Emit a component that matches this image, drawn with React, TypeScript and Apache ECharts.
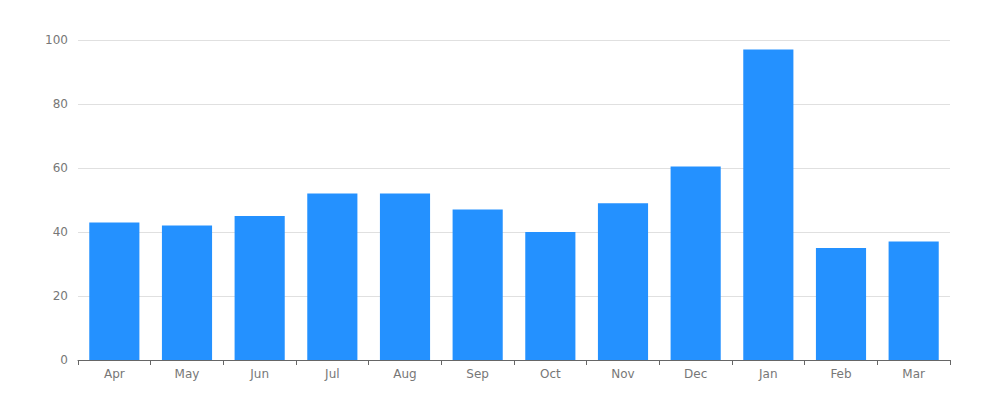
import React, { useEffect, useRef } from "react";
import * as echarts from "echarts";

const categories = ["Apr", "May", "Jun", "Jul", "Aug", "Sep", "Oct", "Nov", "Dec", "Jan", "Feb", "Mar"];
const values = [43, 42, 45, 52, 52, 47, 40, 49, 60.5, 97, 35, 37];
const yTicks = { min: 0, max: 100, interval: 20 };

export default function App() {
  const ref = useRef<HTMLDivElement>(null);
  useEffect(() => {
    if (!ref.current) return;
    const chart = echarts.init(ref.current, undefined, { renderer: "svg" });
    chart.setOption({
      animation: false,
      textStyle: { fontFamily: "DejaVu Sans" },
      grid: { left: 70, right: 42, top: 32, bottom: 32 },
      xAxis: {
        type: "category",
        data: categories,
        axisLine: { lineStyle: { color: "#666666" } },
        axisTick: { show: true, length: 5, lineStyle: { color: "#666666" } },
        axisLabel: { color: "#777777", fontSize: 12, margin: 8 },
      },
      yAxis: {
        type: "value",
        min: yTicks.min,
        max: yTicks.max,
        interval: yTicks.interval,
        axisLabel: { color: "#777777", fontSize: 12, margin: 10 },
        splitLine: { lineStyle: { color: "#e0e0e0" } },
      },
      series: [
        {
          type: "bar",
          data: values,
          barWidth: "69%",
          itemStyle: { color: "#2491ff" },
        },
      ],
    });
    return () => chart.dispose();
  }, []);
  return <div ref={ref} style={{ width: 984, height: 384 }} />;
}
